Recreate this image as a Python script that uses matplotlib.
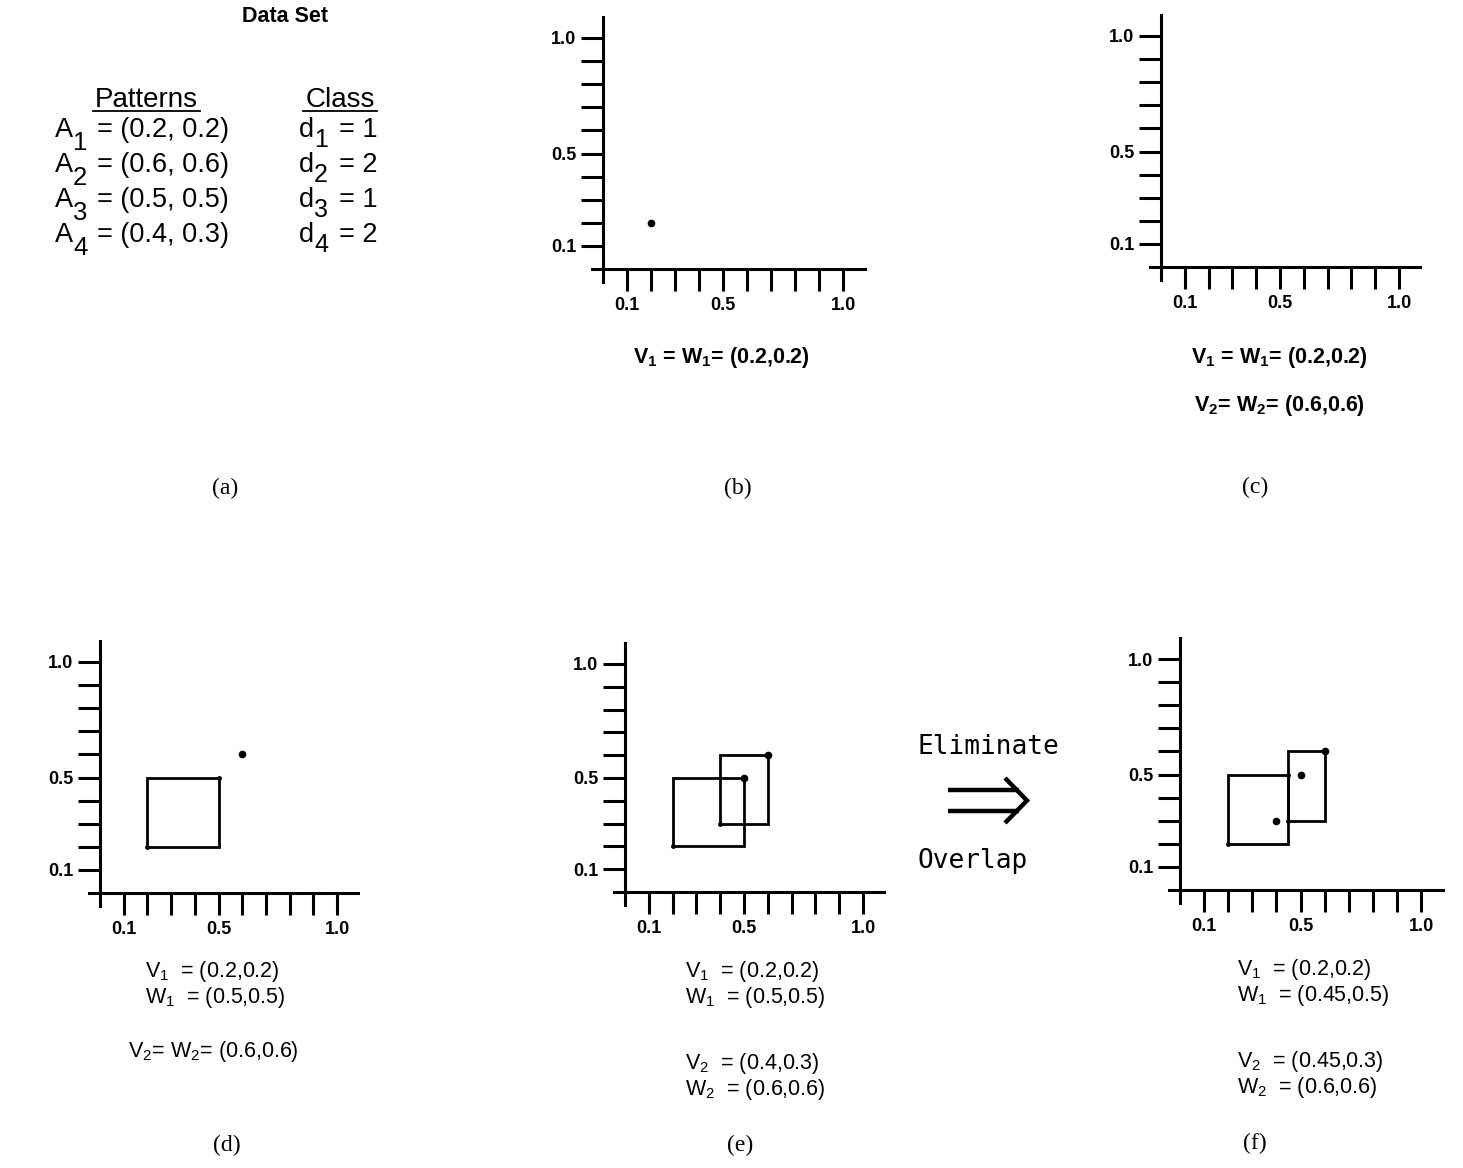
import matplotlib
matplotlib.use("Agg")
import matplotlib.pyplot as plt
from matplotlib.lines import Line2D
from matplotlib.patches import Rectangle

plt.rcParams['font.family'] = ['Liberation Sans', 'DejaVu Sans']

W, H = 1463, 1168

# data set
pattern_x = [0.2, 0.6, 0.5, 0.4]
pattern_y = [0.2, 0.6, 0.5, 0.3]
pattern_class = [1, 2, 1, 2]

# axis ticks
tick_vals = [0.1, 0.2, 0.3, 0.4, 0.5, 0.6, 0.7, 0.8, 0.9, 1.0]
tick_labels = ['0.1', '', '', '', '0.5', '', '', '', '', '1.0']

# hyperboxes per panel: (vx, vy, wx, wy)
boxes_b = []
boxes_c = []
boxes_d = [(0.2, 0.2, 0.5, 0.5)]
boxes_e = [(0.2, 0.2, 0.5, 0.5), (0.4, 0.3, 0.6, 0.6)]
boxes_f = [(0.2, 0.2, 0.45, 0.5), (0.45, 0.3, 0.6, 0.6)]

# points shown per panel
pts_b_x, pts_b_y = [0.2], [0.2]
pts_c_x, pts_c_y = [], []
pts_d_x, pts_d_y = [0.6], [0.6]
pts_e_x, pts_e_y = [0.5, 0.6], [0.5, 0.6]
pts_f_x, pts_f_y = [0.5, 0.4, 0.6], [0.5, 0.3, 0.6]


def fx(x):
    return x / W


def fy(y):
    return 1 - y / H


def make_axes(fig, ox, oy, sx, sy, boxes, px, py):
    x0, x1 = -0.1, 1.15
    lpx = ox + x0 * sx
    bpx = oy - x0 * sy
    ax = fig.add_axes([lpx / W, 1 - bpx / H, (x1 - x0) * sx / W, (x1 - x0) * sy / H])
    ax.set_xlim(x0, x1)
    ax.set_ylim(x0, x1)
    ax.patch.set_visible(False)
    for s in ['top', 'right']:
        ax.spines[s].set_visible(False)
    ax.spines['left'].set_position(('data', 0))
    ax.spines['bottom'].set_position(('data', 0))
    ax.spines['left'].set_bounds(-0.057, 1.09)
    ax.spines['bottom'].set_bounds(-0.045, 1.09)
    for s in ['left', 'bottom']:
        ax.spines[s].set_linewidth(2.2)
    ax.set_xticks(tick_vals)
    ax.set_xticklabels(tick_labels)
    ax.set_yticks(tick_vals)
    ax.set_yticklabels(tick_labels)
    ax.tick_params(axis='x', direction='out', length=16, width=2.2, pad=4.5, labelsize=13)
    ax.tick_params(axis='y', direction='out', length=16, width=2.2, pad=3, labelsize=13)
    for lab in ax.get_xticklabels() + ax.get_yticklabels():
        lab.set_fontweight('bold')
    for vx, vy, wx, wy in boxes:
        ax.add_patch(Rectangle((vx, vy), wx - vx, wy - vy, fill=False, lw=2.0, ec='black'))
        ax.plot([vx, wx], [vy, wy], 'o', color='black', ms=2.5, ls='none')
    ax.plot(px, py, 'o', color='black', ms=4.5, ls='none')
    return ax


fig = plt.figure(figsize=(W / 100, H / 100), dpi=100)

# panel (a)
fig.text(fx(285), fy(16), 'Data Set', ha='center', va='center', fontsize=15.5, fontweight='bold')
fig.text(fx(146), fy(100), 'Patterns', ha='center', va='center', fontsize=20)
fig.text(fx(340), fy(100), 'Class', ha='center', va='center', fontsize=20)
fig.add_artist(Line2D([fx(93), fx(200)], [fy(111), fy(111)], color='black', lw=1.3))
fig.add_artist(Line2D([fx(303), fx(377)], [fy(111), fy(111)], color='black', lw=1.3))
row_y = [130, 165, 200, 235]
for i in range(4):
    y = row_y[i]
    fig.text(fx(55), fy(y), 'A', ha='left', va='center', fontsize=19.5)
    fig.text(fx(73), fy(y + 13), str(i + 1), ha='left', va='center', fontsize=18.5)
    fig.text(fx(97), fy(y), '= (%g, %g)' % (pattern_x[i], pattern_y[i]),
             ha='left', va='center', fontsize=19.5)
    fig.text(fx(299), fy(y), 'd', ha='left', va='center', fontsize=19.5)
    fig.text(fx(314), fy(y + 10), str(i + 1), ha='left', va='center', fontsize=18)
    fig.text(fx(339), fy(y), '= %d' % pattern_class[i], ha='left', va='center', fontsize=19.5)

# panels (b)-(f)
make_axes(fig, 603, 269, 240, 231, boxes_b, pts_b_x, pts_b_y)
make_axes(fig, 1161, 267, 238, 231, boxes_c, pts_c_x, pts_c_y)
make_axes(fig, 100, 893, 237, 231, boxes_d, pts_d_x, pts_d_y)
make_axes(fig, 625, 892, 238, 228, boxes_e, pts_e_x, pts_e_y)
make_axes(fig, 1180, 890, 241, 231, boxes_f, pts_f_x, pts_f_y)

cap = dict(fontsize=15.5, va='center')
# (b)
fig.text(fx(721), fy(358), r'$\mathregular{V_1}$ = $\mathregular{W_1}$= (0.2,0.2)',
         ha='center', fontweight='bold', **cap)
# (c)
fig.text(fx(1279), fy(357), r'$\mathregular{V_1}$ = $\mathregular{W_1}$= (0.2,0.2)',
         ha='center', fontweight='bold', **cap)
fig.text(fx(1279), fy(405), r'$\mathregular{V_2}$= $\mathregular{W_2}$= (0.6,0.6)',
         ha='center', fontweight='bold', **cap)
# (d)
fig.text(fx(145), fy(972), r'$\mathregular{V_1}$  = (0.2,0.2)', ha='left', **cap)
fig.text(fx(145), fy(998), r'$\mathregular{W_1}$  = (0.5,0.5)', ha='left', **cap)
fig.text(fx(213), fy(1052), r'$\mathregular{V_2}$= $\mathregular{W_2}$= (0.6,0.6)', ha='center', **cap)
# (e)
fig.text(fx(685), fy(971), r'$\mathregular{V_1}$  = (0.2,0.2)', ha='left', **cap)
fig.text(fx(685), fy(998), r'$\mathregular{W_1}$  = (0.5,0.5)', ha='left', **cap)
fig.text(fx(685), fy(1064), r'$\mathregular{V_2}$  = (0.4,0.3)', ha='left', **cap)
fig.text(fx(685), fy(1089), r'$\mathregular{W_2}$  = (0.6,0.6)', ha='left', **cap)
# (f)
fig.text(fx(1237), fy(970), r'$\mathregular{V_1}$  = (0.2,0.2)', ha='left', **cap)
fig.text(fx(1237), fy(996), r'$\mathregular{W_1}$  = (0.45,0.5)', ha='left', **cap)
fig.text(fx(1237), fy(1062), r'$\mathregular{V_2}$  = (0.45,0.3)', ha='left', **cap)
fig.text(fx(1237), fy(1087), r'$\mathregular{W_2}$  = (0.6,0.6)', ha='left', **cap)

# eliminate overlap arrow
fig.text(fx(917), fy(747), 'Eliminate', ha='left', va='center', fontsize=18.8,
         family='DejaVu Sans Mono')
fig.text(fx(917), fy(861), 'Overlap', ha='left', va='center', fontsize=18.8,
         family='DejaVu Sans Mono')
arrow_style = dict(color='black', lw=3.2, solid_capstyle='butt', solid_joinstyle='miter')
fig.add_artist(Line2D([fx(948), fx(1019)], [fy(790), fy(790)], **arrow_style))
fig.add_artist(Line2D([fx(948), fx(1019)], [fy(811), fy(811)], **arrow_style))
fig.add_artist(Line2D([fx(1005), fx(1027), fx(1005)], [fy(778), fy(800.5), fy(823)], **arrow_style))

# panel labels
for lab, x, y in [('(a)', 225, 488), ('(b)', 738, 488), ('(c)', 1255, 487),
                  ('(d)', 227, 1145), ('(e)', 740, 1145), ('(f)', 1255, 1143)]:
    fig.text(fx(x), fy(y), lab, ha='center', va='center', fontsize=17,
             family='Liberation Serif')

fig.savefig('out.png', dpi=100)
